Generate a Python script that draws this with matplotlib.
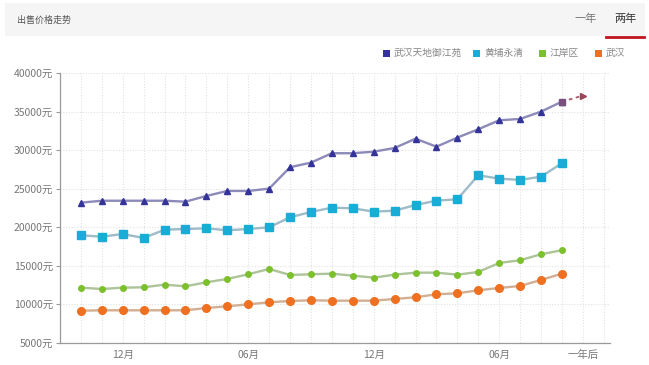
import matplotlib
matplotlib.use("Agg")
import matplotlib.pyplot as plt
from matplotlib.patches import Rectangle
from matplotlib.lines import Line2D

plt.rcParams['font.family'] = ['Noto Sans CJK SC', 'DejaVu Sans']

W, H = 649, 365

# ---- data ----
x_idx = list(range(24))
tianDi = [23200, 23450, 23450, 23450, 23450, 23330, 24070, 24720, 24720, 25020,
          27800, 28400, 29620, 29620, 29820, 30300, 31510, 30470, 31650, 32730,
          33900, 34070, 35020, 36320]
forecast_x = [23, 24]
forecast_v = [36320, 37100]
yongQing = [18960, 18780, 19130, 18610, 19690, 19780, 19870, 19610, 19780, 20000,
            21300, 21990, 22550, 22470, 22030, 22160, 22900, 23460, 23640, 26760,
            26320, 26150, 26580, 28320]
jiangAn = [12160, 11990, 12160, 12210, 12550, 12340, 12860, 13290, 13900, 14590,
           13810, 13900, 13980, 13720, 13460, 13850, 14110, 14110, 13850, 14200,
           15370, 15720, 16500, 17020]
wuhan = [9170, 9220, 9220, 9220, 9220, 9220, 9520, 9740, 10000, 10260,
         10430, 10520, 10470, 10470, 10470, 10690, 10910, 11300, 11430, 11820,
         12120, 12380, 13160, 13980]
series_names = ['武汉天地御江苑', '黄埔永清', '江岸区', '武汉']
xtick_pos = [2, 8, 14, 20, 24]
xtick_labels = ['12月', '06月', '12月', '06月', '一年后']
ytick_vals = [5000, 10000, 15000, 20000, 25000, 30000, 35000, 40000]

fig = plt.figure(figsize=(W / 100, H / 100), dpi=100)
fig.patch.set_facecolor('white')

ax = fig.add_axes([60 / W, 1 - 342.8 / H, 550 / W, (342.8 - 73.3) / H])
ax.set_xlim(-1, 25.3)
ax.set_ylim(5000, 40000)

# grid
for i in range(-1, 26):
    ax.axvline(i, color='#e2e2e2', lw=0.8, ls=(0, (1, 1.5)), zorder=0)
for v in ytick_vals:
    ax.axhline(v, color='#e2e2e2', lw=0.8, ls=(0, (1, 1.5)), zorder=0)

styles = [
    (tianDi, '#8c8ab8', '#34339a', '^', 5),
    (yongQing, '#9dbcc8', '#19acd6', 's', 5.5),
    (jiangAn, '#adc49a', '#7cc02c', 'o', 4),
    (wuhan, '#d2ae92', '#ee7020', 'o', 5.5),
]
for vals, lc, mc, mk, ms in styles:
    ax.plot(x_idx, vals, color=lc, lw=1.7, zorder=2, solid_capstyle='round')
    ax.plot(x_idx, vals, ls='none', marker=mk, ms=ms, color=mc,
            markeredgecolor=mc, zorder=3)

ax.plot(forecast_x, forecast_v, color='#a45a6a', lw=1.3, ls=(0, (2, 2)), zorder=3)
ax.plot([forecast_x[0]], [forecast_v[0]], ls='none', marker='s', ms=5,
        color='#7a4f7e', zorder=4)
ax.plot([forecast_x[1]], [forecast_v[1]], ls='none', marker='>', ms=4.5,
        color='#9a4658', zorder=4)

for s in ['top', 'right']:
    ax.spines[s].set_visible(False)
for s in ['left', 'bottom']:
    ax.spines[s].set_color('#9a9a9a')
    ax.spines[s].set_linewidth(0.9)

ax.set_yticks(ytick_vals)
ax.set_yticklabels([f'{v}元' for v in ytick_vals], fontsize=7.5, color='#777777')
ax.set_xticks(xtick_pos)
ax.set_xticklabels(xtick_labels, fontsize=7.5, color='#777777')
ax.tick_params(axis='y', length=3, color='#9a9a9a', pad=2)
ax.tick_params(axis='x', length=0, pad=5)

# header bar
fig.add_artist(Rectangle((5 / W, 1 - 36 / H), 640 / W, 33 / H,
                         transform=fig.transFigure, facecolor='#f5f5f5',
                         edgecolor='none', zorder=0))
fig.text(17 / W, 1 - 20 / H, '出售价格走势', fontsize=6.5, color='#555555',
         ha='left', va='center')
fig.text(586 / W, 1 - 19 / H, '一年', fontsize=8, color='#777777',
         ha='center', va='center')
fig.text(625 / W, 1 - 19 / H, '两年', fontsize=8, color='#333333',
         ha='center', va='center')
fig.add_artist(Line2D([606 / W, 644 / W], [1 - 37 / H, 1 - 37 / H],
                      transform=fig.transFigure, color='#c0141e', lw=2))

# legend
leg_items = [(386, '#34339a'), (476, '#19acd6'), (542, '#7cc02c'), (598, '#ee7020')]
for (lx, col), name in zip(leg_items, series_names):
    fig.add_artist(Rectangle(((lx - 3.5) / W, 1 - 57 / H), 7 / W, 7 / H,
                             transform=fig.transFigure, facecolor=col,
                             edgecolor='none'))
    fig.text((lx + 8) / W, 1 - 53 / H, name, fontsize=7, color='#888888',
             ha='left', va='center')

fig.savefig('out.png', dpi=100)
